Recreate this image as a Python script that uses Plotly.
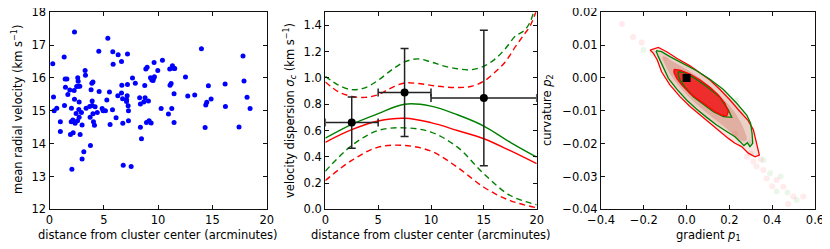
import plotly.graph_objects as go

# ---------------- Panel 1: mean radial velocity vs distance ----------------
dist = [0.3, 0.37, 0.43, 0.67, 1.0, 1.0, 1.35, 1.44, 1.6, 1.38, 1.47, 1.69, 1.87, 2.02, 2.0,
        2.06, 1.93, 2.18, 2.15, 2.3, 2.3, 2.27, 2.21, 2.36, 2.45, 2.5, 2.6, 2.64, 2.67, 2.73,
        2.7, 2.73, 2.58, 2.82, 2.79, 2.94, 3.0, 3.0, 3.16, 3.28, 3.31, 3.37, 3.74, 3.77, 3.83,
        3.9, 4.0, 3.93, 4.0, 4.05, 4.14, 4.2, 3.93, 3.7, 4.4, 4.54, 4.57, 4.85, 4.94, 5.15,
        5.28, 5.37, 5.52, 5.58, 5.8, 5.83, 5.86, 6.13, 6.32, 6.29, 6.63, 6.63, 6.66, 6.73, 6.75,
        6.79, 7.1, 7.18, 7.18, 7.15, 7.09, 7.24, 7.27, 7.27, 7.52, 7.64, 7.9, 8.3, 8.37, 8.37,
        8.47, 8.68, 8.77, 8.8, 8.87, 8.99, 8.93, 9.11, 9.17, 9.3, 9.42, 9.54, 9.6, 9.63, 9.66,
        9.36, 9.97, 10.4, 10.28, 10.95, 11.07, 11.1, 11.2, 11.26, 11.32, 11.47, 11.53, 11.47, 11.47,
        12.52, 12.73, 13.37, 13.99, 14.33, 14.39, 14.48, 14.63, 14.88, 16.17, 16.2, 17.45, 17.82,
        17.91, 18.19, 18.47]
vel = [16.43, 15.42, 15.0, 15.08, 14.67, 14.37, 16.64, 15.97, 15.97, 15.16, 15.72, 15.5, 15.63,
       15.08, 14.67, 13.22, 14.28, 14.33, 14.72, 17.4, 15.35, 15.62, 14.67, 14.62, 14.92, 15.74,
       16.01, 15.9, 15.75, 15.27, 15.04, 14.8, 14.7, 14.28, 15.75, 14.95, 14.57, 13.53, 13.75,
       16.23, 16.08, 15.08, 14.8, 13.94, 15.64, 15.84, 15.88, 15.16, 14.91, 14.67, 14.56, 15.12,
       15.3, 15.13, 14.95, 16.81, 15.59, 15.07, 15.0, 15.0, 15.33, 17.21, 15.57, 14.58, 15.03,
       16.8, 16.42, 14.79, 16.71, 15.46, 16.5, 15.54, 15.78, 15.37, 14.62, 13.34, 15.34, 16.73,
       15.8, 15.46, 15.28, 15.15, 15.0, 14.7, 13.3, 16.0, 15.84, 15.4, 15.21, 14.5, 14.15, 15.27,
       15.77, 15.4, 16.27, 16.33, 14.64, 15.3, 14.7, 16.01, 15.94, 15.92, 16.0, 16.47, 16.04,
       14.63, 16.23, 16.54, 15.07, 14.9, 16.27, 15.78, 15.83, 15.07, 16.37, 16.29, 16.29, 15.52,
       14.64, 16.03, 15.45, 15.48, 16.89, 14.49, 15.18, 15.26, 15.76, 15.36, 15.82, 15.13, 14.51,
       16.67, 15.91, 15.41, 15.07]

# ---------------- Panel 2: velocity dispersion ----------------
bin_centre = [2.5, 7.5, 15.0]
bin_halfwidth = [2.5, 2.5, 5.0]
sigma_bin = [0.66, 0.89, 0.847]
sigma_err = [0.195, 0.335, 0.516]

curve_x = [0, 2.5, 5, 7.5, 10, 12.5, 15, 17.5, 20]
green_mid = [0.542, 0.647, 0.728, 0.800, 0.786, 0.720, 0.634, 0.510, 0.397]
red_mid = [0.510, 0.606, 0.672, 0.693, 0.660, 0.600, 0.537, 0.446, 0.347]
green_lo = [0.290, 0.486, 0.600, 0.620, 0.588, 0.473, 0.270, 0.105, 0.035]
red_lo = [0.219, 0.372, 0.473, 0.486, 0.443, 0.320, 0.168, 0.066, 0.012]

hi_x = [0, 1.25, 2.5, 3.75, 5, 6.25, 7.5, 8.75, 10, 11.25, 12.5, 13.75, 15, 16, 17, 18, 18.8, 19.4, 20]
green_hi = [1.013, 0.945, 0.911, 0.925, 0.982, 1.06, 1.122, 1.145, 1.122, 1.09, 1.07, 1.062,
            1.09, 1.14, 1.22, 1.32, 1.36, 1.43, 1.6]
red_hi = [0.970, 0.895, 0.860, 0.852, 0.873, 0.925, 0.962, 0.958, 0.944, 0.932, 0.927, 0.935,
          0.975, 1.04, 1.12, 1.24, 1.33, 1.40, 1.52]

# ---------------- Panel 3: gradient vs curvature ----------------
red_outer_x = [-0.171, -0.132, -0.093, -0.046, 0.016, 0.063, 0.109, 0.156, 0.203, 0.250, 0.288,
               0.312, 0.324, 0.331, 0.340, 0.320, 0.288, 0.257, 0.226, 0.195, 0.148, 0.102, 0.063,
               0.016, -0.031, -0.078, -0.117, -0.137, -0.155, -0.171]
red_outer_y = [0.0085, 0.0093, 0.0080, 0.0060, 0.0037, 0.0016, -0.0006, -0.0035, -0.0067, -0.0103,
               -0.0130, -0.0158, -0.0189, -0.0214, -0.0235, -0.0240, -0.0229, -0.0209, -0.0199,
               -0.0184, -0.0158, -0.0133, -0.0113, -0.0087, -0.0057, -0.0021, 0.0019, 0.0055,
               0.0075, 0.0085]
green_outer_x = [-0.143, -0.117, -0.078, -0.015, 0.047, 0.109, 0.172, 0.234, 0.281, 0.299, 0.306,
                 0.309, 0.296, 0.284, 0.268, 0.250, 0.226, 0.187, 0.140, 0.094, 0.047, 0.000,
                 -0.046, -0.085, -0.112, -0.132, -0.143]
green_outer_y = [0.0083, 0.0080, 0.0065, 0.0043, 0.0022, -0.0004, -0.0035, -0.0077, -0.0113,
                 -0.0138, -0.0169, -0.0199, -0.0209, -0.0197, -0.0206, -0.0194, -0.0179, -0.0163,
                 -0.0143, -0.0120, -0.0095, -0.0067, -0.0034, -0.0001, 0.0035, 0.0065, 0.0083]
mid_band_x = [-0.11, -0.05, 0.05, 0.15, 0.22, 0.27, 0.28, 0.25, 0.18, 0.10, 0.0, -0.07, -0.11]
mid_band_y = [0.0065, 0.0045, 0.0005, -0.0050, -0.0100, -0.0160, -0.0190, -0.0190, -0.0150,
              -0.0110, -0.0050, 0.0005, 0.0065]
red_inner_x = [-0.059, -0.031, 0.016, 0.063, 0.109, 0.148, 0.179, 0.195, 0.187, 0.164, 0.133,
               0.094, 0.055, 0.016, -0.023, -0.046, -0.059, -0.059]
red_inner_y = [0.0026, 0.0024, 0.0012, -0.0006, -0.0028, -0.0052, -0.0077, -0.0103, -0.0116,
               -0.0113, -0.0103, -0.0085, -0.0067, -0.0047, -0.0021, -0.0001, 0.0016, 0.0026]
green_inner_x = [-0.039, -0.015, 0.031, 0.094, 0.156, 0.195, 0.211, 0.172, 0.125, 0.078, 0.031,
                 -0.008, -0.031, -0.039, -0.039]
green_inner_y = [0.0019, 0.0017, 0.0002, -0.0026, -0.0059, -0.0097, -0.0120, -0.0118, -0.0103,
                 -0.0079, -0.0057, -0.0028, -0.0006, 0.0009, 0.0019]
red_samples_x = [-0.302, -0.210, -0.101, 0.226, 0.281, 0.346, 0.359, 0.374, 0.421, 0.452, 0.475,
                 0.499, 0.545, 0.312, 0.327, -0.25, 0.40, 0.30]
red_samples_y = [0.0164, 0.0108, 0.0060, -0.0169, -0.0240, -0.0248, -0.0280, -0.0306, -0.0311,
                 -0.0331, -0.0384, -0.0361, -0.0361, -0.0255, -0.0270, 0.0125, -0.0330, -0.0230]
green_samples_x = [-0.202, 0.234, 0.296, 0.359, 0.421, 0.471, 0.390, 0.514, -0.16, 0.44]
green_samples_y = [0.0085, -0.0067, -0.0199, -0.0250, -0.0346, -0.0349, -0.0290, -0.0372, 0.0075,
                   -0.0300]
best_p1 = [0.0]
best_p2 = [0.0]

# The page body keeps its default 8px margin, so the figure is drawn 8px in from the
# window's top-left corner; positions below are window pixels, converted with OFF.
OFF = 8
W, H = 830 - OFF, 249 - OFF
FONT = "DejaVu Sans"
FS = 11.5
RED = "#ff0000"
GREEN = "#008000"


def px(x):
    return (x - OFF) / W


def py(y):
    return 1 - (y - OFF) / H


top, bottom = 12.3, 209.3
doms = [(49.5, 266.7), (325.3, 536.7), (601.0, 815.0)]

fig = go.Figure()

# panel 1
fig.add_trace(go.Scatter(x=dist, y=vel, mode="markers", xaxis="x", yaxis="y",
                         marker=dict(color="#0000ff", size=5, line=dict(width=0)),
                         showlegend=False))

# panel 2
line_specs = [
    (curve_x, green_mid, GREEN, "solid"),
    (curve_x, red_mid, RED, "solid"),
    (curve_x, green_lo, GREEN, "6px,4px"),
    (curve_x, red_lo, RED, "6px,4px"),
    (hi_x, green_hi, GREEN, "6px,4px"),
    (hi_x, red_hi, RED, "6px,4px"),
]
for xs, ys, col, dash in line_specs:
    fig.add_trace(go.Scatter(x=xs, y=ys, mode="lines", xaxis="x2", yaxis="y2",
                             line=dict(color=col, width=1.4, dash=dash, shape="spline",
                                       smoothing=1.0),
                             showlegend=False))
fig.add_trace(go.Scatter(x=bin_centre, y=sigma_bin, mode="markers", xaxis="x2", yaxis="y2",
                         marker=dict(color="black", size=8),
                         error_x=dict(type="data", array=bin_halfwidth, color="#222",
                                      thickness=1.5, width=4),
                         error_y=dict(type="data", array=sigma_err, color="#222",
                                      thickness=1.5, width=4),
                         showlegend=False))

# panel 3
fig.add_trace(go.Scatter(x=red_outer_x, y=red_outer_y, mode="lines", fill="toself",
                         xaxis="x3", yaxis="y3", line=dict(width=0),
                         fillcolor="rgba(228,195,182,0.40)", showlegend=False))
fig.add_trace(go.Scatter(x=green_outer_x, y=green_outer_y, mode="lines", fill="toself",
                         xaxis="x3", yaxis="y3", line=dict(width=0),
                         fillcolor="rgba(210,150,130,0.28)", showlegend=False))
fig.add_trace(go.Scatter(x=mid_band_x, y=mid_band_y, mode="lines", fill="toself",
                         xaxis="x3", yaxis="y3", line=dict(width=0, shape="spline"),
                         fillcolor="rgba(200,90,70,0.28)", showlegend=False))
fig.add_trace(go.Scatter(x=red_samples_x, y=red_samples_y, mode="markers", xaxis="x3",
                         yaxis="y3", marker=dict(color="rgba(255,60,60,0.10)", size=6),
                         showlegend=False))
fig.add_trace(go.Scatter(x=green_samples_x, y=green_samples_y, mode="markers", xaxis="x3",
                         yaxis="y3", marker=dict(color="rgba(0,140,0,0.08)", size=6),
                         showlegend=False))
fig.add_trace(go.Scatter(x=red_inner_x, y=red_inner_y, mode="lines", fill="toself",
                         xaxis="x3", yaxis="y3", line=dict(width=0),
                         fillcolor="rgba(238,35,35,0.92)", showlegend=False))
for xs, ys, col in [(red_outer_x, red_outer_y, RED), (green_outer_x, green_outer_y, GREEN),
                    (green_inner_x, green_inner_y, GREEN), (red_inner_x, red_inner_y, RED)]:
    fig.add_trace(go.Scatter(x=xs, y=ys, mode="lines", xaxis="x3", yaxis="y3",
                             line=dict(color=col, width=1.3), showlegend=False))
fig.add_trace(go.Scatter(x=best_p1, y=best_p2, mode="markers", xaxis="x3", yaxis="y3",
                         marker=dict(color="black", size=8, symbol="square"),
                         showlegend=False))

axis_common = dict(showgrid=False, zeroline=False, showline=True, linecolor="#111",
                   linewidth=1.2, mirror="allticks", ticks="inside", ticklen=4,
                   tickcolor="#111", tickwidth=1, automargin=False,
                   ticklabeloverflow="allow",
                   tickfont=dict(family=FONT, size=FS, color="black"))
y_dom = [py(bottom), py(top)]
fig.update_layout(
    width=W, height=H, margin=dict(l=0, r=0, t=0, b=0),
    paper_bgcolor="white", plot_bgcolor="white",
    font=dict(family=FONT, size=FS, color="black"),
    xaxis=dict(domain=[px(doms[0][0]), px(doms[0][1])], range=[0, 20], tickvals=[0, 5, 10, 15, 20],
               anchor="y", **axis_common),
    yaxis=dict(domain=y_dom, range=[12, 18], tickvals=[12, 13, 14, 15, 16, 17, 18],
               anchor="x", **axis_common),
    xaxis2=dict(domain=[px(doms[1][0]), px(doms[1][1])], range=[0, 20],
                tickvals=[0, 5, 10, 15, 20], anchor="y2", **axis_common),
    yaxis2=dict(domain=y_dom, range=[0, 1.5], tickvals=[0, 0.2, 0.4, 0.6, 0.8, 1.0, 1.2, 1.4],
                tickformat=".1f", anchor="x2", **axis_common),
    xaxis3=dict(domain=[px(doms[2][0]), px(doms[2][1])], range=[-0.4, 0.6],
                tickvals=[-0.4, -0.2, 0, 0.2, 0.4, 0.6], tickformat=".1f", anchor="y3",
                **axis_common),
    yaxis3=dict(domain=y_dom, range=[-0.04, 0.02],
                tickvals=[-0.04, -0.03, -0.02, -0.01, 0, 0.01, 0.02], tickformat=".2f",
                anchor="x3", **axis_common),
)

xtitle = "distance from cluster center (arcminutes)"
annots = [
    (17, 110, "mean radial velocity (km s<sup>−1</sup>)", -90),
    (290, 111, "velocity dispersion <i>σ<sub>c</sub></i> (km s<sup>−1</sup>)", -90),
    (547, 110, "curvature <i>p</i><sub>2</sub>", -90),
    ((doms[0][0] + doms[0][1]) / 2, 235, xtitle, 0),
    ((doms[1][0] + doms[1][1]) / 2, 235, xtitle, 0),
    ((doms[2][0] + doms[2][1]) / 2, 235, "gradient <i>p</i><sub>1</sub>", 0),
]
for x, y, t, ang in annots:
    fig.add_annotation(x=px(x), y=py(y), xref="paper", yref="paper", text=t, showarrow=False,
                       textangle=ang, xanchor="center", yanchor="middle",
                       font=dict(family=FONT, size=FS, color="black"))

fig.write_html("out.html")
